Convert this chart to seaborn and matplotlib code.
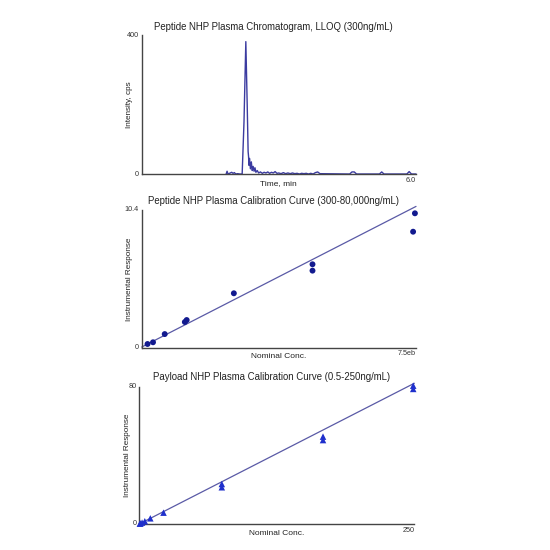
import numpy as np
import pandas as pd
import matplotlib
matplotlib.use("Agg")
import matplotlib.pyplot as plt
import seaborn as sns

sns.set_style("white")
plt.rcParams['font.family'] = ['Liberation Sans', 'DejaVu Sans']

# chromatogram trace (time in min, intensity in cps)
chrom_time = [1.85, 1.87, 1.89, 1.94, 1.97, 2.00, 2.03, 2.06, 2.10, 2.15, 2.20, 2.24, 2.28,
              2.31, 2.33, 2.34, 2.35, 2.36, 2.38, 2.40, 2.42, 2.44, 2.46, 2.48, 2.50, 2.53,
              2.56, 2.60, 2.64, 2.68, 2.72, 2.76, 2.80, 2.84, 2.88, 2.92, 2.96, 3.00, 3.05,
              3.10, 3.15, 3.20, 3.25, 3.30, 3.35, 3.40, 3.45, 3.50, 3.55, 3.60, 3.65, 3.70,
              3.75, 3.80, 3.85, 3.90, 4.55, 4.60, 4.65, 4.70, 5.20, 5.25, 5.30, 5.80, 5.85,
              5.90, 6.00]
chrom_int = [0, 8, 0, 3, 5, 2, 4, 0, 1, 0, 0, 150, 381,
             200, 65, 50, 25, 45, 15, 35, 10, 22, 8, 18, 5, 10,
             3, 6, 2, 5, 3, 6, 2, 5, 3, 7, 2, 3, 1,
             4, 1, 3, 1, 3, 1, 2, 0, 2, 1, 2, 0, 2,
             0, 4, 6, 1, 0, 6, 6, 0, 0, 6, 0, 0, 7,
             0, 0]

# peptide calibration (x in axis units up to 7.5)
pep_conc = [0.16, 0.31, 0.63, 1.18, 1.23, 2.52, 4.67, 4.67, 7.42, 7.47]
pep_resp = [0.28, 0.41, 1.03, 1.94, 2.09, 4.11, 6.30, 5.82, 8.76, 10.15]
pep_fit = [1.416, 0.05]   # slope, intercept

# payload calibration (ng/mL)
pay_conc = [0.5, 1, 2.5, 5, 10, 22, 75, 75, 167, 167, 249, 249]
pay_resp = [0.2, 0.35, 0.8, 1.6, 3.3, 6.6, 23.3, 21.4, 50.9, 48.9, 80.6, 78.7]
pay_fit = [0.328, 0.0]

trace_col = '#3b3ba0'
fit_col = '#5a5aa6'
dot_col = '#121a8f'
tri_col = '#1f30cc'

fig = plt.figure(figsize=(5.5, 5.5), dpi=100)
ax1 = fig.add_axes([0.2573, 0.6836, 0.4991, 0.2527])
ax2 = fig.add_axes([0.2576, 0.3678, 0.4988, 0.2504])
ax3 = fig.add_axes([0.2533, 0.0473, 0.5, 0.2496])


def style_axis(ax, xmax, ymax, xtick, ytop, title, xlabel, ylabel, tpad):
    ax.set_xlim(0, xmax)
    ax.set_ylim(0, ymax)
    ax.set_xticks([xmax])
    ax.set_xticklabels([xtick], ha='right')
    ax.set_yticks([0, ymax])
    ax.set_yticklabels(['0', ytop], va='center')
    ax.tick_params(length=0, labelsize=5.2, colors='#333333', pad=2)
    for s in ['top', 'right']:
        ax.spines[s].set_visible(False)
    for s in ['left', 'bottom']:
        ax.spines[s].set_color('#444444')
        ax.spines[s].set_linewidth(1.0)
    ax.set_title(title, fontsize=6.9, color='#222222', pad=tpad, x=0.48)
    ax.set_xlabel(xlabel, fontsize=6, color='#222222')
    ax.set_ylabel(ylabel, fontsize=5.9, color='#222222')
    ax.xaxis.set_label_coords(0.5, -0.042)
    ax.yaxis.set_label_coords(-0.03, 0.5)


# chromatogram
chrom = pd.DataFrame({'time': chrom_time, 'intensity': chrom_int})
sns.lineplot(data=chrom, x='time', y='intensity', ax=ax1, color=trace_col, linewidth=1.0)
style_axis(ax1, 6.0, 400, '6.0', '400',
           'Peptide NHP Plasma Chromatogram, LLOQ (300ng/mL)', 'Time, min', 'Intensity, cps', 3.5)

# peptide calibration
pep = pd.DataFrame({'conc': pep_conc, 'resp': pep_resp})
xl = np.array([0, 7.5])
sns.lineplot(x=xl, y=pep_fit[0] * xl + pep_fit[1], ax=ax2, color=fit_col, linewidth=0.9)
sns.scatterplot(data=pep, x='conc', y='resp', ax=ax2, color=dot_col, s=18,
                edgecolor='none', zorder=3, clip_on=False)
style_axis(ax2, 7.5, 10.4, '7.5eb', '10.4',
           'Peptide NHP Plasma Calibration Curve (300-80,000ng/mL)', 'Nominal Conc.',
           'Instrumental Response', 4.5)

# payload calibration
pay = pd.DataFrame({'conc': pay_conc, 'resp': pay_resp})
xl = np.array([0, 250])
sns.lineplot(x=xl, y=pay_fit[0] * xl + pay_fit[1], ax=ax3, color=fit_col, linewidth=0.9)
sns.scatterplot(data=pay, x='conc', y='resp', ax=ax3, color=tri_col, marker='^', s=22,
                edgecolor='none', zorder=3, clip_on=False)
style_axis(ax3, 250, 80, '250', '80',
           'Payload NHP Plasma Calibration Curve (0.5-250ng/mL)', 'Nominal Conc.',
           'Instrumental Response', 5)

for ax in [ax1, ax2, ax3]:
    for line in ax.lines:
        line.set_clip_on(False)

fig.savefig('out.png', dpi=100)
